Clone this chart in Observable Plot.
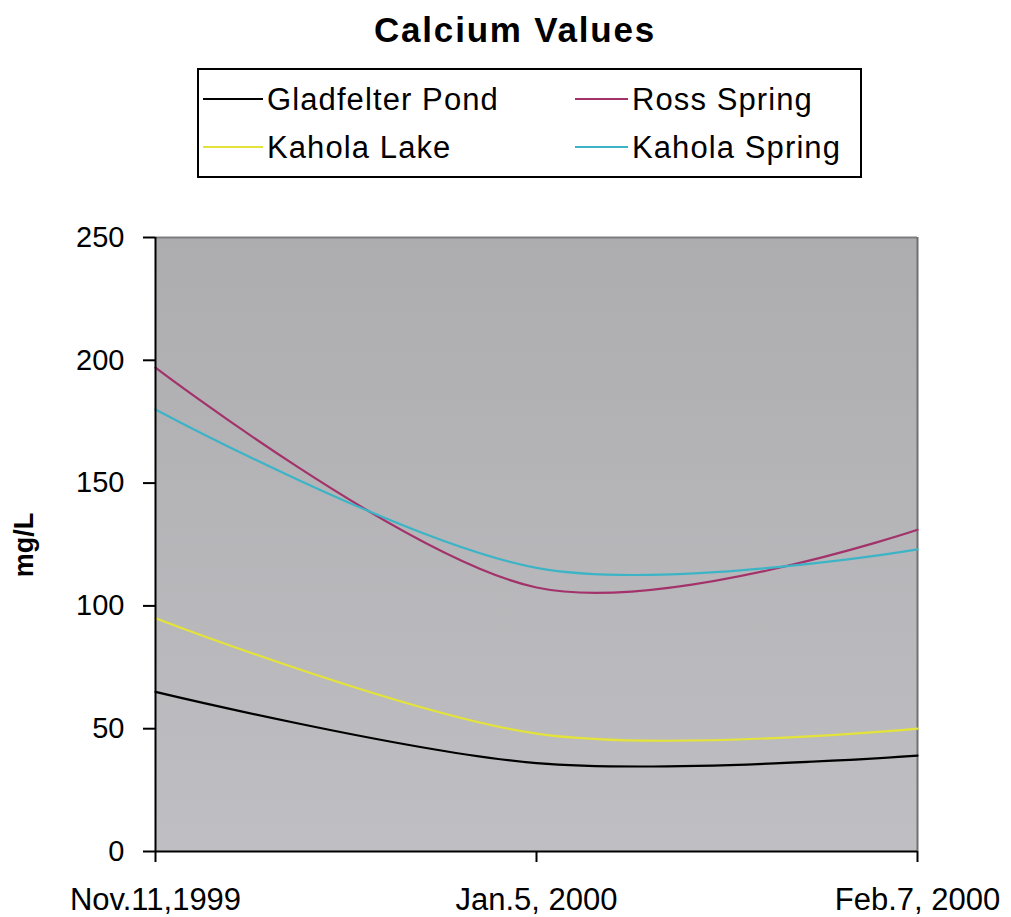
<!DOCTYPE html>
<html>
<head>
<meta charset="utf-8">
<script src="https://cdn.jsdelivr.net/npm/d3@7"></script>
<script src="https://cdn.jsdelivr.net/npm/@observablehq/plot@0.6"></script>
<style>
  html, body { margin: 0; padding: 0; background: #fff; }
  body { width: 1011px; height: 917px; position: relative; overflow: hidden; font-family: "Liberation Sans", Arial, sans-serif; color: #000; }
  #title { position: absolute; left: 0; top: 12px; width: 1030px; text-align: center; font-weight: bold; font-size: 35px; line-height: 35px; letter-spacing: 1.8px; }
  #legend { position: absolute; left: 197px; top: 68px; width: 661px; height: 106px; border: 2px solid #000; }
  .item { position: absolute; font-size: 31px; line-height: 31px; letter-spacing: 1.1px; white-space: nowrap; }
  .swatch { position: absolute; height: 0; border-top: 2px solid #000; }
  #ylabel { position: absolute; left: 24px; top: 545px; transform: translate(-50%, -50%) rotate(-90deg); font-weight: bold; font-size: 27px; white-space: nowrap; }
  #chart { position: absolute; left: 0; top: 190px; }
</style>
</head>
<body>
<div id="title">Calcium Values</div>
<div id="legend"></div>
<div id="ylabel">mg/L</div>
<div id="chart"></div>
<script>
// ---- data ----
const dates = ["Nov.11,1999", "Jan.5, 2000", "Feb.7, 2000"];
const seriesNames = ["Gladfelter Pond", "Ross Spring", "Kahola Lake", "Kahola Spring"];
const gladfelterPond = [65, 36, 39];
const rossSpring = [197, 107.5, 131];
const kaholaLake = [95, 48, 50];
const kaholaSpring = [180, 115.5, 123];
const yTicks = [0, 50, 100, 150, 200, 250];

// ---- styling ----
const seriesColors = ["#000000", "#a3326a", "#e3e33a", "#3db4c6"];

const seriesValues = [gladfelterPond, rossSpring, kaholaLake, kaholaSpring];
const rows = [];
seriesNames.forEach((name, i) => {
  dates.forEach((d, j) => rows.push({series: name, date: d, value: seriesValues[i][j]}));
});

// legend
const legend = document.getElementById("legend");
const legendPos = [
  {lx: 203 - 199, tx: 267 - 199, y: 99 - 70},
  {lx: 575 - 199, tx: 632 - 199, y: 99 - 70},
  {lx: 203 - 199, tx: 267 - 199, y: 147 - 70},
  {lx: 575 - 199, tx: 632 - 199, y: 147 - 70}
];
seriesNames.forEach((name, i) => {
  const p = legendPos[i];
  const sw = document.createElement("div");
  sw.className = "swatch";
  sw.style.left = p.lx + "px";
  sw.style.width = (p.tx - p.lx - 4) + "px";
  sw.style.top = (p.y - 1) + "px";
  sw.style.borderTopColor = seriesColors[i];
  legend.appendChild(sw);
  const t = document.createElement("div");
  t.className = "item";
  t.textContent = name;
  t.style.left = p.tx + "px";
  t.style.top = (p.y - 15) + "px";
  legend.appendChild(t);
});

const plot = Plot.plot({
  width: 1011,
  height: 727,
  marginLeft: 155,
  marginRight: 94,
  marginTop: 47,
  marginBottom: 66,
  style: {fontFamily: "'Liberation Sans', Arial, sans-serif", color: "#000", background: "transparent"},
  x: {type: "point", domain: dates, padding: 0},
  y: {domain: [0, 250]},
  color: {domain: seriesNames, range: seriesColors},
  marks: [
    Plot.frame({fill: "url(#plotbg)", stroke: null}),
    Plot.ruleY([250], {stroke: "#7d7d80", strokeWidth: 2}),
    Plot.ruleX([dates[dates.length - 1]], {stroke: "#707073", strokeWidth: 2}),
    Plot.line(rows, {x: "date", y: "value", z: "series", stroke: "series", curve: "cardinal", strokeWidth: 2.2}),
    Plot.ruleX([dates[0]], {stroke: "#000", strokeWidth: 2}),
    Plot.ruleY([0], {stroke: "#000", strokeWidth: 2}),
    Plot.axisY({ticks: yTicks, tickSize: 12, tickPadding: 19, fontSize: 29, strokeWidth: 2, label: null, tickFormat: d => String(d)}),
    Plot.axisX({tickSize: 11, tickPadding: 25, fontSize: 31, strokeWidth: 2, label: null})
  ]
});
const defs = d3.select(plot).insert("defs", ":first-child");
const grad = defs.append("linearGradient").attr("id", "plotbg").attr("x1", 0).attr("y1", 0).attr("x2", 0).attr("y2", 1);
grad.append("stop").attr("offset", "0%").attr("stop-color", "#adadb0");
grad.append("stop").attr("offset", "100%").attr("stop-color", "#bfbfc3");
document.getElementById("chart").appendChild(plot);
</script>
</body>
</html>
